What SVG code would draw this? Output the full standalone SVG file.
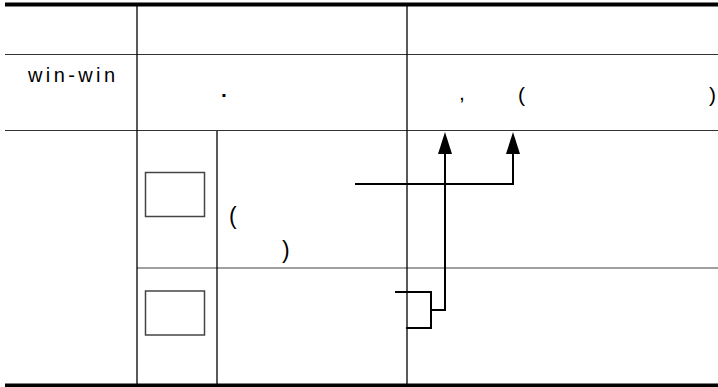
<svg xmlns="http://www.w3.org/2000/svg" width="718" height="387" viewBox="0 0 718 387">
<style>
.thick{stroke:#000;stroke-width:4;fill:none}
.hl{stroke:#333;stroke-width:1.2;fill:none}
.vl{stroke:#000;stroke-width:1.3;fill:none}
.gl{stroke:#808080;stroke-width:1.5;fill:none}
.box{fill:#fff;stroke:#444;stroke-width:1.5}
.t{font-family:"Liberation Sans",Arial,sans-serif;fill:#000}
.c{stroke:#000;stroke-width:2;fill:none}
</style>
<defs>
<marker id="ah" markerUnits="userSpaceOnUse" markerWidth="22" markerHeight="14" refX="0" refY="7" orient="auto" viewBox="0 0 22 14">
<path d="M0,0 L22,7 L0,14 z" fill="#000"/>
</marker>
</defs>
<rect width="718" height="387" fill="#fff"/>
<g id="table">
<line class="thick" x1="5" y1="4.5" x2="718" y2="4.5"/>
<line class="thick" x1="5" y1="385.5" x2="718" y2="385.5"/>
<line class="hl" x1="5" y1="54.5" x2="718" y2="54.5"/>
<line class="hl" x1="5" y1="130.5" x2="718" y2="130.5"/>
<line class="gl" x1="137" y1="268" x2="718" y2="268"/>
<line class="vl" x1="137" y1="6" x2="137" y2="384"/>
<line class="vl" x1="407" y1="6" x2="407" y2="384"/>
<line class="vl" x1="217" y1="131" x2="217" y2="384"/>
</g>
<g id="row2-label"><text class="t" x="28" y="82" font-size="20" textLength="87" lengthAdjust="spacing">win-win</text></g>
<g id="row2-mid"><text class="t" x="221" y="97" font-size="21" font-weight="bold">.</text></g>
<g id="row2-right">
<text class="t" x="459" y="100" font-size="21">,</text>
<text class="t" x="518" y="102" font-size="21">(</text>
<text class="t" x="709" y="102" font-size="21">)</text>
</g>
<g id="box1"><rect class="box" x="145.5" y="172.5" width="59" height="44"/></g>
<g id="box2"><rect class="box" x="145.5" y="291" width="59" height="44"/></g>
<g id="row3-text">
<text class="t" x="229" y="224" font-size="23">(</text>
<text class="t" x="282" y="258" font-size="23">)</text>
</g>
<g id="connectors">
<path class="c" d="M355,184 H513 V154" marker-end="url(#ah)"/>
<path class="c" d="M445,311 V154" marker-end="url(#ah)"/>
<path class="c" d="M395,292 H431 V328 H406 M431,310 H445"/>
</g>
</svg>
